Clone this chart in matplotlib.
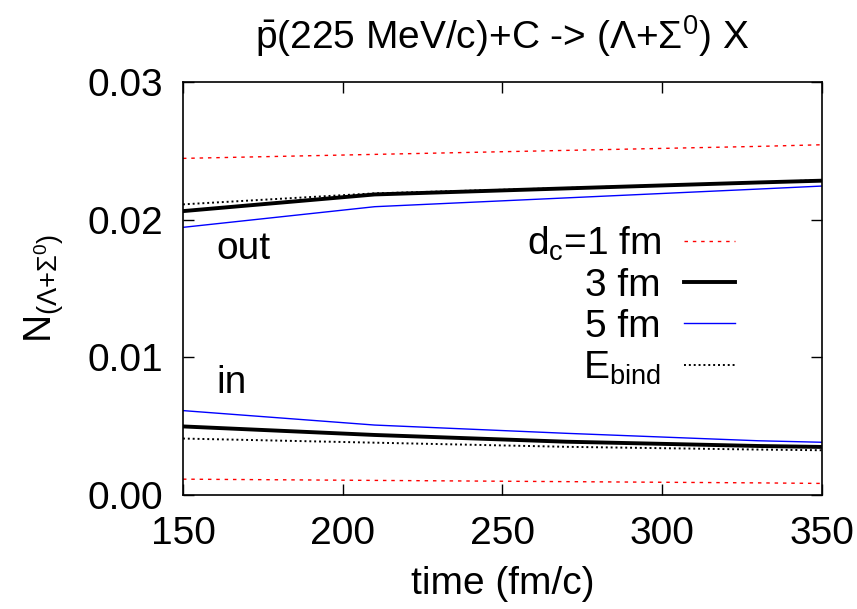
import matplotlib
matplotlib.use("Agg")
import matplotlib.pyplot as plt

plt.rcParams["font.family"] = ["Liberation Sans", "DejaVu Sans"]
plt.rcParams["mathtext.fontset"] = "custom"
plt.rcParams["mathtext.rm"] = "Liberation Sans"
plt.rcParams["mathtext.it"] = "Liberation Sans:italic"
plt.rcParams["mathtext.bf"] = "Liberation Sans:bold"

time = [150, 210, 270, 330, 350]

# "out" yields
out_d1 = [0.02445, 0.02474, 0.02503, 0.02532, 0.02544]
out_d3 = [0.02062, 0.02183, 0.02227, 0.02270, 0.02283]
out_d5 = [0.01944, 0.02094, 0.02158, 0.02222, 0.02244]
out_eb = [0.02111, 0.02191, 0.02230, 0.02270, 0.02288]

# "in" yields
in_d1 = [0.00115, 0.00106, 0.00097, 0.00088, 0.00084]
in_d3 = [0.00498, 0.00436, 0.00387, 0.00356, 0.00349]
in_d5 = [0.00613, 0.00508, 0.00448, 0.00394, 0.00383]
in_eb = [0.00410, 0.00380, 0.00350, 0.00330, 0.00325]

labels = ["d$_{\\rm c}$=1 fm", "3 fm", "5 fm", "E$_{\\rm bind}$"]

FS = 28

fig = plt.figure(figsize=(8.57, 6.09), dpi=100)
ax = fig.add_axes([0.2135, 0.1872, 0.7455, 0.6782])

red_style = dict(color="red", lw=1.0, ls=(0, (2.5, 3.5)))
blk_style = dict(color="black", lw=2.8, ls="-")
blu_style = dict(color="blue", lw=1.0, ls="-")
dot_style = dict(color="black", lw=1.4, ls=(0, (1, 1.5)))

h1, = ax.plot(time, out_d1, **red_style)
h3, = ax.plot(time, out_d3, **blk_style)
h5, = ax.plot(time, out_d5, **blu_style)
he, = ax.plot(time, out_eb, **dot_style)
ax.plot(time, in_d1, **red_style)
ax.plot(time, in_d3, **blk_style)
ax.plot(time, in_d5, **blu_style)
ax.plot(time, in_eb, **dot_style)

ax.set_xlim(150, 350)
ax.set_ylim(0.0, 0.03)
ax.set_xticks([150, 200, 250, 300, 350])
ax.set_yticks([0.00, 0.01, 0.02, 0.03])
ax.set_yticklabels(["0.00", "0.01", "0.02", "0.03"])
ax.tick_params(direction="in", length=8, width=1, labelsize=FS, top=True, right=True)
ax.tick_params(axis="x", pad=15)
ax.tick_params(axis="y", pad=14)
for s in ax.spines.values():
    s.set_linewidth(1.2)

ax.set_xlabel("time (fm/c)", fontsize=FS, labelpad=10)
ax.set_ylabel("N$_{(\\Lambda{+}\\Sigma^0)}$", fontsize=FS, labelpad=16)
ax.set_title("$\\bar{\\rm p}$(225 MeV/c)+C -> ($\\Lambda$+$\\Sigma^0$) X", fontsize=FS, pad=24)

ax.text(160.5, 0.0179, "out", fontsize=FS, va="center", ha="left")
ax.text(160.5, 0.0081, "in", fontsize=FS, va="center", ha="left")

ax.legend([h1, h3, h5, he], labels, loc="upper right", bbox_to_anchor=(0.864, 0.655),
          frameon=False, markerfirst=False, fontsize=FS, handlelength=1.3,
          handletextpad=0.6, labelspacing=0.13, borderpad=0, borderaxespad=0)

fig.savefig("out.png", dpi=100)
